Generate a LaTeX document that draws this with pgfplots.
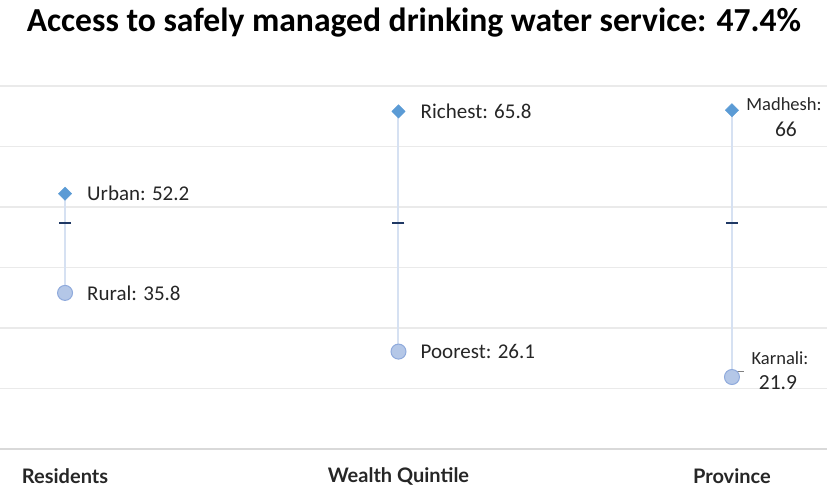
\documentclass[border=0pt]{standalone}
\usepackage{pgfplots}
\pgfplotsset{compat=1.18}
\usepackage{fontspec}
\setmainfont{Carlito}
\newfontfamily\catfont{Lato}
\definecolor{gridc}{HTML}{EAEAEA}
\definecolor{basec}{HTML}{D9D9D9}
\definecolor{hi}{HTML}{5B9BD5}
\definecolor{lofill}{HTML}{B4C7E7}
\definecolor{loedge}{HTML}{8FAADC}
\definecolor{stem}{HTML}{D6E1F2}
\definecolor{avg}{HTML}{1F3864}
\definecolor{txt}{HTML}{262626}
\begin{document}
\begin{tikzpicture}[x=1pt,y=1pt]
\path[use as bounding box] (0,0) rectangle (827,492);
\node[font=\bfseries\fontsize{33.6}{40}\selectfont] at (414,469) {Access to safely managed drinking water service: 47.4\%};
\begin{axis}[
  at={(0pt,43pt)}, anchor=south west,
  scale only axis, width=827pt, height=363pt,
  xmin=-0.195, xmax=2.285, ymin=10, ymax=70,
  clip=false,
  axis line style={draw=none},
  ytick={20,30,...,70}, yticklabels={},
  ymajorgrids=true, xmajorgrids=false,
  major grid style={draw=gridc, line width=1.5pt},
  major tick length=0pt,
  xtick={0,1,2}, xticklabels={Residents,Wealth Quintile,Province},
  xticklabel style={font=\catfont\bfseries\fontsize{20}{24}\selectfont, text=txt, anchor=center, yshift=-27pt},
]
\draw[basec, line width=1.5pt] (axis cs:-0.195,10) -- (axis cs:2.285,10);
% stems
\addplot[stem, line width=2pt] coordinates {(0,35.8) (0,52.2)};
\addplot[stem, line width=2pt] coordinates {(1,26.1) (1,65.8)};
\addplot[stem, line width=2pt] coordinates {(2,21.9) (2,66)};
% average
\addplot[only marks, mark=-, mark size=6pt, mark options={avg, line width=2pt}] coordinates {(0,47.4) (1,47.4) (2,47.4)};
% low
\addplot[only marks, mark=*, mark size=7.5pt, mark options={fill=lofill, draw=loedge, line width=1pt}] coordinates {(0,35.8) (1,26.1) (2,21.9)};
% high
\addplot[only marks, mark=square*, mark size=4.7pt, mark options={fill=hi, draw=hi, rotate=45}] coordinates {(0,52.2) (1,65.8) (2,66)};
% labels
\draw[gray, line width=1.3pt] (axis cs:2,21.9) -- ++(0pt,5.5pt) -- ++(12pt,0pt);
\node[anchor=west, font=\fontsize{21}{24}\selectfont, text=txt] at (axis cs:0.056,52.2) {Urban: 52.2};
\node[anchor=west, font=\fontsize{21}{24}\selectfont, text=txt] at (axis cs:0.056,35.8) {Rural: 35.8};
\node[anchor=west, font=\fontsize{21}{24}\selectfont, text=txt] at (axis cs:1.056,65.8) {Richest: 65.8};
\node[anchor=west, font=\fontsize{21}{24}\selectfont, text=txt] at (axis cs:1.056,26.1) {Poorest: 26.1};
\node[font=\fontsize{18.5}{22}\selectfont, text=txt] at (axis cs:2.156,67.07) {Madhesh:};
\node[font=\fontsize{21.5}{24}\selectfont, text=txt] at (axis cs:2.162,62.77) {66};
\node[font=\fontsize{18.5}{22}\selectfont, text=txt] at (axis cs:2.144,25.09) {Karnali:};
\node[font=\fontsize{21.5}{24}\selectfont, text=txt] at (axis cs:2.138,20.95) {21.9};
\end{axis}
\end{tikzpicture}
\end{document}
